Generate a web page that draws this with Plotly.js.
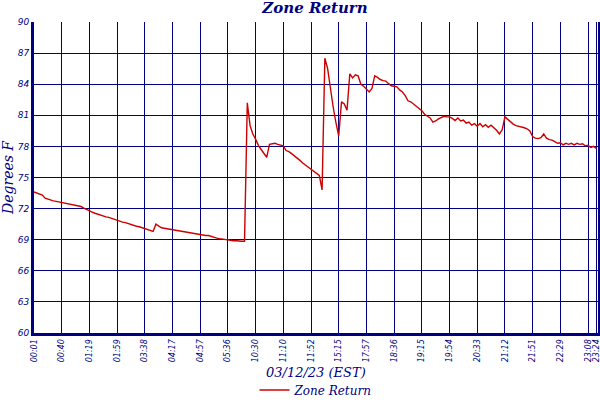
<!DOCTYPE html>
<html>
<head>
<meta charset="utf-8">
<script src="https://cdn.plot.ly/plotly-3.0.1.min.js"></script>
<style>
  html, body { margin: 0; padding: 0; background: #fff; }
  #plot { width: 600px; height: 400px; }
</style>
</head>
<body>
<div id="plot"></div>
<script>
// one reading per sample, 10 samples between labelled ticks
const zoneReturn = [
  73.6, 73.5, 73.45, 73.3, 73.0, 72.9, 72.8, 72.75, 72.7, 72.65,
  72.6, 72.5, 72.5, 72.45, 72.4, 72.35, 72.3, 72.2, 72.05, 71.9,
  71.75, 71.65, 71.55, 71.45, 71.4, 71.3, 71.2, 71.15, 71.05, 71.0,
  70.9, 70.8, 70.7, 70.65, 70.55, 70.45, 70.4, 70.3, 70.25, 70.15,
  70.1, 70.0, 69.9, 69.8, 70.5, 70.3, 70.15, 70.1, 70.05, 70.0,
  69.95, 69.9, 69.85, 69.8, 69.8, 69.7, 69.65, 69.6, 69.55, 69.5,
  69.5, 69.45, 69.4, 69.4, 69.3, 69.25, 69.15, 69.1, 69.05, 69.0,
  69.0, 68.95, 68.9, 68.9, 68.85, 68.85, 68.85, 82.2, 80.0, 79.2,
  78.7, 78.1, 77.7, 77.3, 76.95, 78.2, 78.25, 78.3, 78.2, 78.1,
  78.05, 77.6, 77.5, 77.3, 77.1, 76.9, 76.65, 76.4, 76.2, 76.0,
  75.8, 75.65, 75.4, 75.2, 73.8, 86.5, 85.5, 83.5, 81.8, 80.3,
  79.0, 82.3, 82.1, 81.5, 85.0, 84.6, 84.9, 84.8, 84.0, 83.8,
  83.5, 83.25, 83.6, 84.8, 84.65, 84.45, 84.35, 84.3, 84.05, 83.85,
  83.8, 83.75, 83.45, 83.25, 82.9, 82.4, 82.3, 82.1, 81.9, 81.65,
  81.45, 81.1, 80.9, 80.75, 80.35, 80.45, 80.65, 80.8, 80.9, 80.85,
  80.85, 80.7, 80.5, 80.75, 80.45, 80.55, 80.25, 80.35, 80.05, 80.2,
  79.95, 80.2, 79.9, 80.1, 79.85, 80.05, 79.8, 79.55, 79.2, 79.6,
  80.85, 80.6, 80.35, 80.15, 80.0, 79.95, 79.9, 79.8, 79.7, 79.5,
  78.95, 78.8, 78.75, 78.85, 79.2, 78.8, 78.65, 78.6, 78.45, 78.3,
  78.35, 78.15, 78.3, 78.2, 78.3, 78.15, 78.3, 78.2, 78.25, 78.05,
  78.1, 77.9, 78.0, 77.8
];

const tickPos = [0, 10, 20, 30, 40, 50, 60, 70, 80, 90, 100,
  110, 120, 130, 140, 150, 160, 170, 180, 190, 200, 203];
const tickLabels = ["00:01", "00:40", "01:19", "01:59", "03:38", "04:17",
  "04:57", "05:36", "10:30", "11:10", "11:52", "15:15", "17:57", "18:36",
  "19:15", "19:54", "20:33", "21:12", "21:51", "22:29", "23:08", "23:24"];

const navy = "#000080";
const serif = "DejaVu Serif, serif";
const sans = "DejaVu Sans, sans-serif";

const sampleIdx = zoneReturn.map((v, i) => i);

const traces = [{
  type: "scatter",
  mode: "lines",
  name: "Zone Return",
  x: sampleIdx,
  y: zoneReturn,
  line: { color: "#cc0000", width: 1.4 },
  hoverinfo: "skip"
}];

const layout = {
  width: 600,
  height: 400,
  margin: { l: 34, r: 2, t: 22, b: 67 },
  paper_bgcolor: "#fff",
  plot_bgcolor: "#fff",
  title: {
    text: "Zone Return",
    font: { family: serif, size: 15, color: navy, style: "italic", weight: "bold" },
    x: 0.525,
    xanchor: "center",
    y: 0.98,
    yanchor: "middle"
  },
  xaxis: {
    range: [0, 203.6],
    tickvals: tickPos,
    ticktext: tickLabels,
    tickangle: -90,
    ticks: "",
    ticklabeloverflow: "allow",
    tickfont: { family: sans, size: 8, color: navy, style: "italic" },
    showgrid: true,
    gridcolor: navy,
    gridwidth: 1,
    showline: true,
    linecolor: navy,
    linewidth: 3,
    zeroline: false,
    automargin: false
  },
  yaxis: {
    range: [60, 90],
    dtick: 3,
    tick0: 60,
    ticks: "",
    tickfont: { family: sans, size: 9, color: navy, style: "italic" },
    showgrid: true,
    gridcolor: navy,
    gridwidth: 1,
    showline: true,
    mirror: true,
    linecolor: navy,
    linewidth: 3,
    zeroline: false,
    automargin: false,
    title: {
      text: "Degrees F",
      font: { family: serif, size: 14, color: navy, style: "italic" },
      standoff: 4
    }
  },
  annotations: [{
    text: "03/12/23 (EST)",
    xref: "paper",
    yref: "paper",
    x: 0.5,
    y: -0.126,
    xanchor: "center",
    yanchor: "middle",
    showarrow: false,
    font: { family: serif, size: 13, color: navy, style: "italic" }
  }],
  showlegend: true,
  legend: {
    orientation: "h",
    x: 0.5,
    xanchor: "center",
    yref: "container",
    y: 0.025,
    yanchor: "middle",
    font: { family: serif, size: 12, color: navy, style: "italic" },
    itemwidth: 30,
    bgcolor: "rgba(0,0,0,0)"
  }
};

Plotly.newPlot("plot", traces, layout, { displayModeBar: false, staticPlot: true });
</script>
</body>
</html>
